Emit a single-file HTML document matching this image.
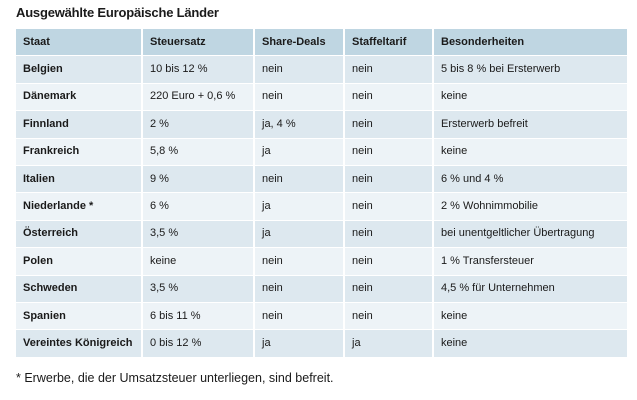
<!DOCTYPE html>
<html><head><meta charset="utf-8"><style>
html,body{margin:0;padding:0;background:#fff;width:637px;height:400px;overflow:hidden}
body{font-family:"Liberation Sans",sans-serif;color:#1a1a1a;position:relative}
.title{position:absolute;left:16px;top:5px;font-size:13px;font-weight:bold;letter-spacing:-0.2px}
table{position:absolute;left:16px;top:29px;border-collapse:collapse;table-layout:fixed;width:611px}
td,th{height:26.4px;padding:0 0 0 7px;font-size:11px;line-height:13px;text-align:left;border-left:2px solid #fff;border-bottom:1px solid #fff;white-space:nowrap;overflow:hidden}
td:first-child,th:first-child{border-left:none;font-weight:bold}
th{background:#bfd6e2;font-weight:bold;height:26.4px}
tr.o td{background:#dde8ef}
tr.e td{background:#edf3f7}
.foot{position:absolute;left:16px;top:371px;font-size:12.5px}
</style></head><body>
<div class="title">Ausgewählte Europäische Länder</div>
<table>
<colgroup><col style="width:126px"><col style="width:112px"><col style="width:90px"><col style="width:89px"><col style="width:194px"></colgroup>
<tr><th>Staat</th><th>Steuersatz</th><th>Share-Deals</th><th>Staffeltarif</th><th>Besonderheiten</th></tr>
<tr class="o"><td>Belgien</td><td>10 bis 12 %</td><td>nein</td><td>nein</td><td>5 bis 8 % bei Ersterwerb</td></tr>
<tr class="e"><td>Dänemark</td><td>220 Euro + 0,6 %</td><td>nein</td><td>nein</td><td>keine</td></tr>
<tr class="o"><td>Finnland</td><td>2 %</td><td>ja, 4 %</td><td>nein</td><td>Ersterwerb befreit</td></tr>
<tr class="e"><td>Frankreich</td><td>5,8 %</td><td>ja</td><td>nein</td><td>keine</td></tr>
<tr class="o"><td>Italien</td><td>9 %</td><td>nein</td><td>nein</td><td>6 % und 4 %</td></tr>
<tr class="e"><td>Niederlande *</td><td>6 %</td><td>ja</td><td>nein</td><td>2 % Wohnimmobilie</td></tr>
<tr class="o"><td>Österreich</td><td>3,5 %</td><td>ja</td><td>nein</td><td>bei unentgeltlicher Übertragung</td></tr>
<tr class="e"><td>Polen</td><td>keine</td><td>nein</td><td>nein</td><td>1 % Transfersteuer</td></tr>
<tr class="o"><td>Schweden</td><td>3,5 %</td><td>nein</td><td>nein</td><td>4,5 % für Unternehmen</td></tr>
<tr class="e"><td>Spanien</td><td>6 bis 11 %</td><td>nein</td><td>nein</td><td>keine</td></tr>
<tr class="o"><td>Vereintes Königreich</td><td>0 bis 12 %</td><td>ja</td><td>ja</td><td>keine</td></tr>
</table>
<div class="foot">* Erwerbe, die der Umsatzsteuer unterliegen, sind befreit.</div>
</body></html>
